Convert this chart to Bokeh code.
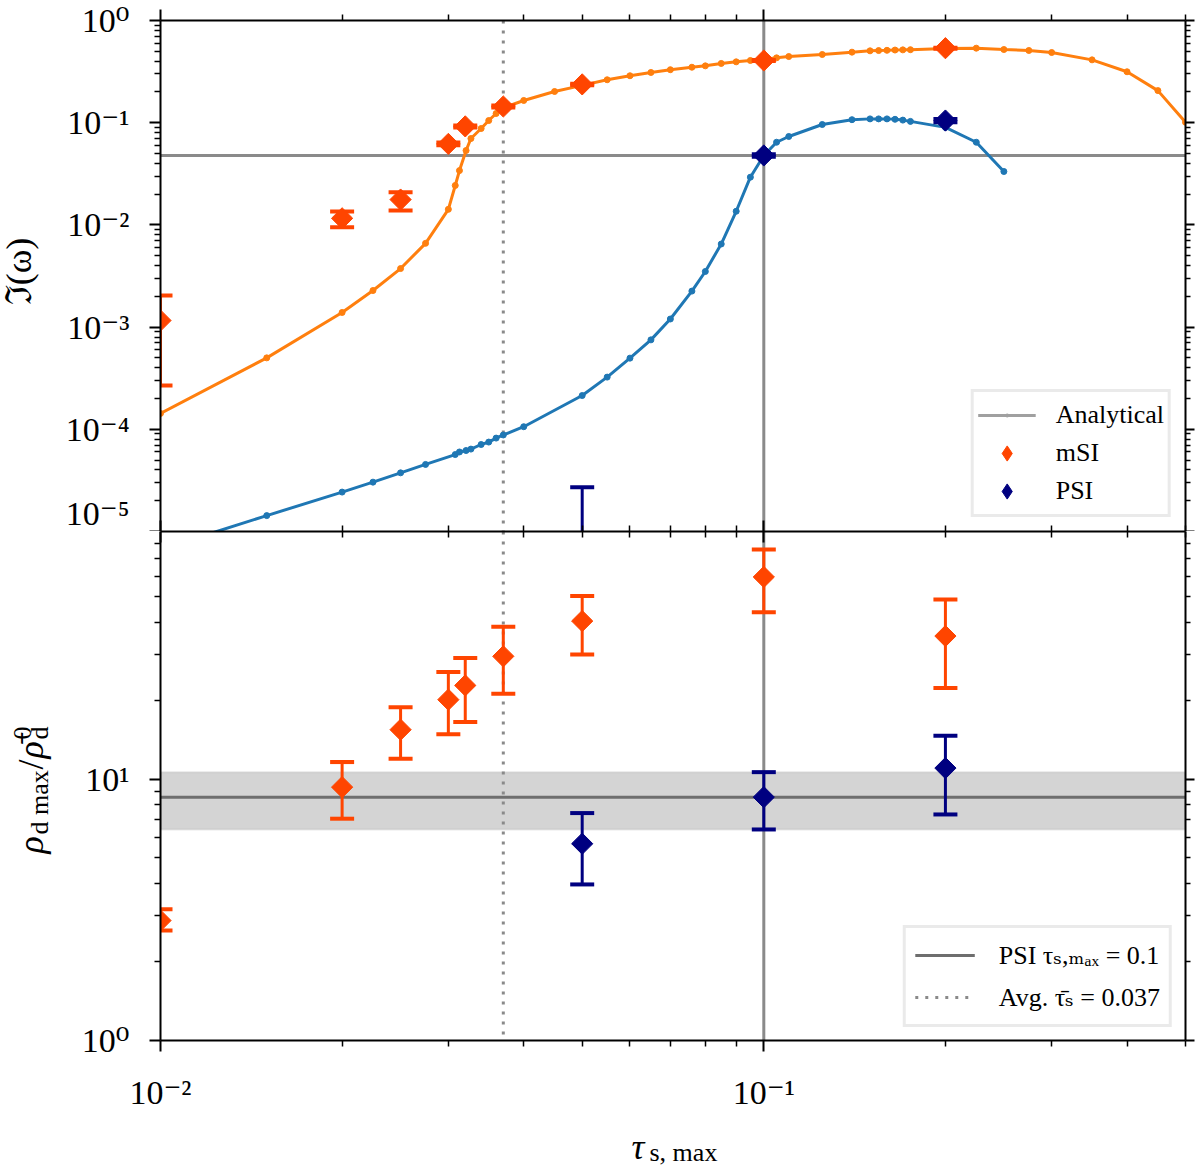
import math
from bokeh.plotting import figure
from bokeh.layouts import column, row
from bokeh.models import (Range1d, FixedTicker, LogAxis, Span, BoxAnnotation,
                          Legend, LegendItem)
from bokeh.core.properties import value
from bokeh.embed import file_html
from bokeh.resources import INLINE

# ------------------------------------------------------------------ data
# analytical growth rate, mSI branch
ana_msi_tau = [0.01, 0.015, 0.02, 0.0225, 0.025, 0.0275, 0.03, 0.0308, 0.0313, 0.0321, 0.0327,
               0.034, 0.035, 0.036, 0.037, 0.04, 0.045, 0.05, 0.055, 0.06, 0.065, 0.07, 0.076,
               0.08, 0.085, 0.09, 0.095, 0.1, 0.105, 0.11, 0.125, 0.14, 0.15, 0.155, 0.16, 0.165,
               0.17, 0.175, 0.2, 0.225, 0.25, 0.275, 0.3, 0.35, 0.4, 0.45, 0.5]
ana_msi_rate = [1.43e-4, 5.0e-4, 1.39e-3, 2.28e-3, 3.74e-3, 6.6e-3, 0.0142, 0.0243, 0.034, 0.0534, 0.070,
                0.0877, 0.105, 0.123, 0.140, 0.165, 0.202, 0.232, 0.263, 0.288, 0.310, 0.330, 0.349,
                0.360, 0.380, 0.394, 0.406, 0.415, 0.431, 0.444, 0.465, 0.490, 0.505, 0.508, 0.511, 0.514,
                0.516, 0.518, 0.532, 0.536, 0.520, 0.509, 0.486, 0.412, 0.315, 0.206, 0.101]
# analytical growth rate, PSI branch
ana_psi_tau = [0.01, 0.015, 0.02, 0.0225, 0.025, 0.0275, 0.0308, 0.0313, 0.0321, 0.0327,
               0.034, 0.035, 0.036, 0.037, 0.04, 0.05, 0.055, 0.06, 0.065, 0.07,
               0.076, 0.08, 0.085, 0.09, 0.095, 0.1, 0.105, 0.11, 0.125, 0.14,
               0.15, 0.155, 0.16, 0.165, 0.17, 0.175, 0.2, 0.225, 0.25]
ana_psi_rate = [6.7e-6, 1.43e-5, 2.43e-5, 3.04e-5, 3.75e-5, 4.53e-5, 5.66e-5, 6.0e-5, 6.2e-5, 6.4e-5,
                7.1e-5, 7.5e-5, 8.2e-5, 8.8e-5, 1.06e-4, 2.14e-4, 3.24e-4, 4.97e-4, 7.5e-4, 1.2e-3,
                2.25e-3, 3.5e-3, 6.5e-3, 0.0136, 0.0293, 0.0478, 0.0644, 0.0733, 0.096, 0.107,
                0.109, 0.109, 0.109, 0.108, 0.106, 0.103, 0.090, 0.0644, 0.0333]

# simulations: mSI
msi_tau = [0.01, 0.02, 0.025, 0.03, 0.032, 0.037, 0.05, 0.1, 0.2]
msi_rate = [1.16e-3, 0.0116, 0.0177, 0.062, 0.092, 0.144, 0.237, 0.406, 0.536]
msi_rate_lo = [2.68e-4, 9.5e-3, 0.0138, 0.060, 0.090, 0.141, 0.233, 0.401, 0.530]
msi_rate_hi = [2.04e-3, 0.0135, 0.0209, 0.064, 0.094, 0.147, 0.241, 0.411, 0.542]
msi_rho = [2.88, 9.34, 15.5, 20.2, 22.9, 29.6, 40.4, 59.6, 35.4]
msi_rho_lo = [2.64, 7.07, 12.0, 14.9, 16.6, 21.3, 30.1, 43.7, 22.4]
msi_rho_hi = [3.18, 11.65, 18.9, 25.8, 29.2, 38.4, 50.4, 76.0, 48.9]

# simulations: PSI
psi_tau = [0.05, 0.1, 0.2]
psi_rate = [3.0e-6, 0.0478, 0.105]
psi_rate_lo = [1.0e-7, 0.0465, 0.101]
psi_rate_hi = [2.71e-5, 0.0491, 0.109]
psi_rho = [5.67, 8.55, 11.05]
psi_rho_lo = [3.96, 6.43, 7.34]
psi_rho_hi = [7.43, 10.66, 14.7]

# reference values
psi_ref_tau = 0.1
psi_ref_rate = 0.0478
avg_tau = 0.037
psi_ref_rho = 8.55
psi_ref_rho_lo = 6.43
psi_ref_rho_hi = 10.66

# ticks
x_major = [0.01, 0.1]
x_minor = [0.02, 0.03, 0.04, 0.05, 0.06, 0.07, 0.08, 0.09, 0.2, 0.3, 0.4, 0.5]
x_labels = ["10⁻²", "10⁻¹"]
top_y_major = [1e-5, 1e-4, 1e-3, 1e-2, 1e-1, 1.0]
top_y_labels = ["10⁻⁵", "10⁻⁴", "10⁻³", "10⁻²", "10⁻¹", "10⁰"]
top_y_minor = [m * 10.0 ** e for e in range(-5, 0) for m in range(2, 10)]
bot_y_major = [1.0, 10.0]
bot_y_labels = ["10⁰", "10¹"]
bot_y_minor = [2, 3, 4, 5, 6, 7, 8, 9, 20, 30, 40, 50, 60, 70, 80]

# axis titles
top_ylabel = "ℑ(ω)"
bot_ylabel_parts = ["ρ", "d max", "/", "ρ̄", "0", "d"]
xlabel_parts = ["τ", "s, max"]

# ------------------------------------------------------------------ style
SERIF = "Liberation Serif, DejaVu Serif, serif"
ORANGE = "#ff7f0e"
BLUE = "#1f77b4"
MSI = "#ff4500"
PSI = "#000080"
GRAY = "#8a8a8a"

STRIP_W = 62          # width of the strip holding the y titles
BORDER_L = 98         # left border of the panels (tick labels)
BORDER_R = 13
FRAME_W = 1025
TOP_BORDER = 20
TOP_FRAME_H = 511
BOT_FRAME_H = 509
BOT_BORDER = 84
XSTRIP_H = 46
TOTAL_H = TOP_BORDER + TOP_FRAME_H + BOT_FRAME_H + BOT_BORDER + XSTRIP_H

x_range = Range1d(0.01, 0.5)


def add_axis(p, side, ticks, minor, labels=None, out_major=11, out_minor=6,
             in_major=0, in_minor=0, line=True, standoff=22):
    ax = LogAxis(ticker=FixedTicker(ticks=ticks, minor_ticks=minor))
    ax.major_tick_out = out_major
    ax.major_tick_in = in_major
    ax.minor_tick_out = out_minor
    ax.minor_tick_in = in_minor
    ax.major_tick_line_width = 2
    ax.minor_tick_line_width = 1.5
    ax.major_tick_line_color = "black"
    ax.minor_tick_line_color = "black"
    ax.axis_line_width = 2
    ax.axis_line_color = "black" if line else None
    if labels:
        ax.major_label_overrides = dict(zip(ticks, labels))
        ax.major_label_text_font = SERIF
        ax.major_label_text_font_size = "34px"
        ax.major_label_text_color = "black"
        ax.major_label_standoff = standoff
    else:
        ax.major_label_overrides = {t: "" for t in ticks}
        ax.major_label_text_font_size = "0px"
        ax.major_label_standoff = 0
    p.add_layout(ax, side)
    return ax


def base_fig(y_range, frame_height, top_border, bottom_border):
    p = figure(x_axis_type="log", y_axis_type="log", x_range=x_range, y_range=y_range,
               frame_width=FRAME_W, frame_height=frame_height,
               x_axis_location=None, y_axis_location=None,
               output_backend="svg", toolbar_location=None,
               min_border_left=BORDER_L, min_border_right=BORDER_R,
               min_border_top=top_border, min_border_bottom=bottom_border)
    p.grid.visible = False
    p.outline_line_color = None
    p.background_fill_color = "white"
    p.border_fill_color = "white"
    return p


def strip_fig(w, h, left=0, right=0):
    p = figure(x_range=Range1d(0, w), y_range=Range1d(0, h), frame_width=w, frame_height=h,
               x_axis_location=None, y_axis_location=None,
               output_backend="svg", toolbar_location=None,
               min_border=0, min_border_left=left, min_border_right=right,
               min_border_top=0, min_border_bottom=0)
    p.grid.visible = False
    p.outline_line_color = None
    p.background_fill_color = "white"
    p.border_fill_color = "white"
    return p


# ------------------------------------------------------------------ top panel
top = base_fig(Range1d(1e-5, 1.0), TOP_FRAME_H, TOP_BORDER, 0)
add_axis(top, "left", top_y_major, top_y_minor, top_y_labels, standoff=20)
add_axis(top, "right", top_y_major, top_y_minor, None, out_major=9, out_minor=5)
add_axis(top, "above", x_major, x_minor, None)
add_axis(top, "below", x_major, x_minor, None, out_major=0, out_minor=0, in_major=11, in_minor=6)

top.add_layout(Span(location=psi_ref_rate, dimension="width", line_color=GRAY,
                    line_width=3, level="underlay"))
top.add_layout(Span(location=psi_ref_tau, dimension="height", line_color=GRAY,
                    line_width=3, level="underlay"))
top.add_layout(Span(location=avg_tau, dimension="height", line_color=GRAY,
                    line_width=3, line_dash="3 7", level="underlay"))

top.line(ana_msi_tau, ana_msi_rate, line_color=ORANGE, line_width=3)
top.scatter(ana_msi_tau, ana_msi_rate, marker="circle", size=6, fill_color=ORANGE, line_color=ORANGE)
top.line(ana_psi_tau, ana_psi_rate, line_color=BLUE, line_width=3)
top.scatter(ana_psi_tau, ana_psi_rate, marker="circle", size=6, fill_color=BLUE, line_color=BLUE)

top.segment(x0=msi_tau, y0=msi_rate_lo, x1=msi_tau, y1=msi_rate_hi, line_color=MSI, line_width=3)
top.scatter(msi_tau, msi_rate_lo, marker="dash", size=24, line_color=MSI, line_width=4)
top.scatter(msi_tau, msi_rate_hi, marker="dash", size=24, line_color=MSI, line_width=4)
top.scatter(msi_tau, msi_rate, marker="square", angle=math.pi / 4, size=15,
            fill_color=MSI, line_color=MSI)
top.segment(x0=psi_tau, y0=psi_rate_lo, x1=psi_tau, y1=psi_rate_hi, line_color=PSI, line_width=3)
top.scatter(psi_tau, psi_rate_lo, marker="dash", size=24, line_color=PSI, line_width=4)
top.scatter(psi_tau, psi_rate_hi, marker="dash", size=24, line_color=PSI, line_width=4)
top.scatter(psi_tau, psi_rate, marker="square", angle=math.pi / 4, size=15,
            fill_color=PSI, line_color=PSI)

# legend proxies (hidden in the plot area, drawn only in the legend)
ana_line_px = top.line(ana_msi_tau, ana_msi_rate, line_color="#a0a0a0", line_width=3, visible=False)
ana_dot_px = top.scatter(ana_msi_tau, ana_msi_rate, marker="dot", size=24,
                         line_color="#a0a0a0", fill_color="#a0a0a0", visible=False)
msi_dia_px = top.scatter(msi_tau, msi_rate, marker="diamond", size=20,
                         fill_color=MSI, line_color=MSI, visible=False)
psi_dia_px = top.scatter(psi_tau, psi_rate, marker="diamond", size=20,
                         fill_color=PSI, line_color=PSI, visible=False)

top_legend = Legend(items=[
    LegendItem(label="Analytical", renderers=[ana_line_px, ana_dot_px]),
    LegendItem(label="mSI", renderers=[msi_dia_px]),
    LegendItem(label="PSI", renderers=[psi_dia_px]),
], location="bottom_right", margin=14, padding=4, spacing=0,
    glyph_width=58, glyph_height=38, label_standoff=20,
    label_text_font=SERIF, label_text_font_size="26px", label_text_color="black",
    border_line_color="#d6d6d6", border_line_width=3,
    background_fill_color="white", background_fill_alpha=0.85)
top.add_layout(top_legend)

# ------------------------------------------------------------------ bottom panel
bot = base_fig(Range1d(1.0, 89.0), BOT_FRAME_H, 0, BOT_BORDER)
add_axis(bot, "left", bot_y_major, bot_y_minor, bot_y_labels, standoff=20)
add_axis(bot, "right", bot_y_major, bot_y_minor, None, out_major=9, out_minor=5)
add_axis(bot, "above", x_major, x_minor, None, out_major=0, out_minor=0, in_major=11, in_minor=6)
add_axis(bot, "below", x_major, x_minor, x_labels, standoff=22)

bot.add_layout(BoxAnnotation(bottom=psi_ref_rho_lo, top=psi_ref_rho_hi, fill_color="#d4d4d4",
                             fill_alpha=1.0, line_color="#b4b4b4", line_width=2, level="underlay"))
bot.add_layout(Span(location=psi_ref_rho, dimension="width", line_color="#6e6e6e",
                    line_width=3, level="underlay"))
bot.add_layout(Span(location=psi_ref_tau, dimension="height", line_color=GRAY,
                    line_width=3, level="underlay"))
bot.add_layout(Span(location=avg_tau, dimension="height", line_color=GRAY,
                    line_width=3, line_dash="3 7", level="underlay"))

bot.segment(x0=msi_tau, y0=msi_rho_lo, x1=msi_tau, y1=msi_rho_hi, line_color=MSI, line_width=3)
bot.scatter(msi_tau, msi_rho_lo, marker="dash", size=24, line_color=MSI, line_width=4)
bot.scatter(msi_tau, msi_rho_hi, marker="dash", size=24, line_color=MSI, line_width=4)
bot.scatter(msi_tau, msi_rho, marker="square", angle=math.pi / 4, size=15,
            fill_color=MSI, line_color=MSI)
bot.segment(x0=psi_tau, y0=psi_rho_lo, x1=psi_tau, y1=psi_rho_hi, line_color=PSI, line_width=3)
bot.scatter(psi_tau, psi_rho_lo, marker="dash", size=24, line_color=PSI, line_width=4)
bot.scatter(psi_tau, psi_rho_hi, marker="dash", size=24, line_color=PSI, line_width=4)
bot.scatter(psi_tau, psi_rho, marker="square", angle=math.pi / 4, size=15,
            fill_color=PSI, line_color=PSI)

psi_line_px = bot.line(msi_tau, msi_rho, line_color="#6e6e6e", line_width=3, visible=False)
avg_line_px = bot.line(msi_tau, msi_rho, line_color=GRAY, line_width=3, line_dash="3 7",
                       visible=False)
bot_legend = Legend(items=[
    LegendItem(label="PSI τₛ,ₘₐₓ = 0.1", renderers=[psi_line_px]),
    LegendItem(label="Avg. τ̄ₛ = 0.037", renderers=[avg_line_px]),
], location="bottom_right", margin=13, padding=9, spacing=6,
    glyph_width=60, glyph_height=36, label_standoff=24,
    label_text_font=SERIF, label_text_font_size="26px", label_text_color="black",
    border_line_color="#d6d6d6", border_line_width=3,
    background_fill_color="white", background_fill_alpha=0.85)
bot.add_layout(bot_legend)

# ------------------------------------------------------------------ title strips
# left strip: pixel coordinates (x from left, y from bottom of strip); texts centred on anchor
ystrip = strip_fig(STRIP_W, TOTAL_H)
ystrip.text(x=[18], y=[TOTAL_H - 271], text=[top_ylabel], angle=math.pi / 2,
            text_align="center", text_baseline="middle",
            text_font=value(SERIF), text_font_size=value("36px"), text_color="black")
# pieces of rho_{d max} / bar(rho)^0_d : (x of centre line, y where the piece starts, size, style)
ylab_pos = [(30, 853, "36px", "italic"), (39, 834, "26px", "normal"),
            (30, 769, "36px", "normal"), (30, 758, "36px", "italic"),
            (22, 739, "26px", "normal"), (39, 739, "26px", "normal")]
for txt, (bx, by, fs, st) in zip(bot_ylabel_parts, ylab_pos):
    ystrip.text(x=[bx], y=[TOTAL_H - by], text=[txt], angle=math.pi / 2,
                text_align="left", text_baseline="middle",
                text_font=value(SERIF), text_font_size=value(fs), text_font_style=st,
                text_color="black")

# bottom strip: x label tau_{s, max}; x measured from the left edge of the panels' frame
xstrip = strip_fig(FRAME_W, XSTRIP_H, left=BORDER_L, right=BORDER_R)
xstrip.text(x=[471], y=[24], text=[xlabel_parts[0]], text_align="left",
            text_baseline="middle", text_font=value(SERIF), text_font_size=value("36px"),
            text_font_style="italic", text_color="black")
xstrip.text(x=[489], y=[18], text=[xlabel_parts[1]], text_align="left",
            text_baseline="middle", text_font=value(SERIF), text_font_size=value("26px"),
            text_color="black")

layout = row(ystrip, column(top, bot, xstrip, spacing=0), spacing=0)
open("out.html", "w").write(file_html(layout, INLINE, title="growth rates"))
